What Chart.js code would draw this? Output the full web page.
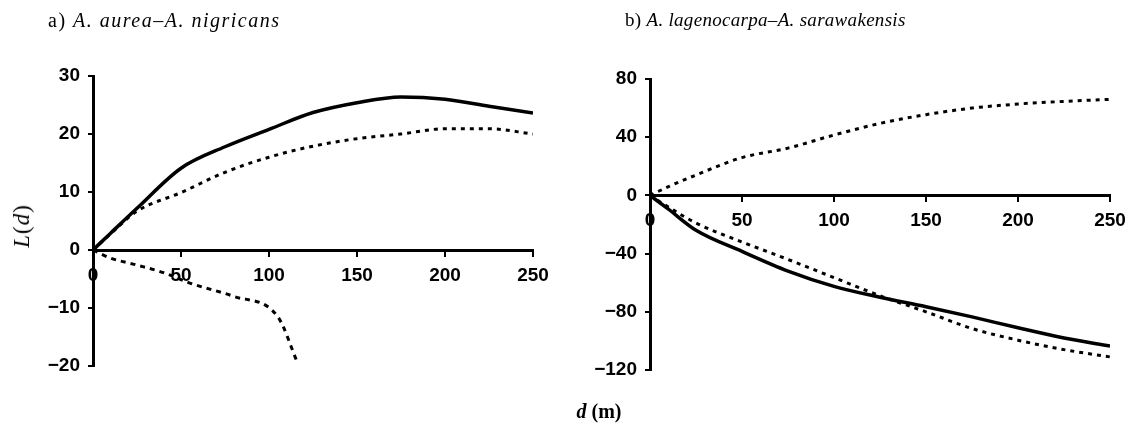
<!DOCTYPE html>
<html>
<head>
<meta charset="utf-8">
<script src="https://cdn.jsdelivr.net/npm/chart.js@4"></script>
<style>
  body { margin: 0; background: #fff; }
  #wrap { position: relative; width: 1136px; height: 425px; overflow: hidden; }
  canvas { position: absolute; top: 0; }
  .title { position: absolute; top: 9px; font-family: "Liberation Serif", "Times New Roman", serif; color: #000; white-space: nowrap; }
  .title i { font-style: italic; }
  .axislabel { position: absolute; font-family: "Liberation Serif", "Times New Roman", serif; color: #000; white-space: nowrap; transform-origin: center; }
</style>
</head>
<body>
<div id="wrap">
  <canvas id="chartA" width="568" height="425" style="left:0"></canvas>
  <canvas id="chartB" width="568" height="425" style="left:568px"></canvas>
  <div class="title" style="left:48px; font-size:20px; letter-spacing:1.5px">a) <i>A. aurea–A. nigricans</i></div>
  <div class="title" style="left:625px; font-size:19px; letter-spacing:0.3px">b) <i>A. lagenocarpa–A. sarawakensis</i></div>
  <div class="axislabel" style="left:22px; top:226px; font-size:23px; letter-spacing:1px; transform: translate(-50%, -50%) rotate(-90deg);"><i>L</i>(<i>d</i>)</div>
  <div class="axislabel" style="left:599px; top:411px; font-size:20px; font-weight:bold; transform: translate(-50%, -50%);"><i>d</i> (m)</div>
</div>
<script>
// distances (m) and L(d) values
const distA = [0, 10, 25, 50, 75, 100, 125, 150, 175, 200, 225, 250];
const solidA = [0, 2.9, 7.2, 14.1, 17.8, 20.8, 23.7, 25.4, 26.4, 26.0, 24.8, 23.6];
const dottedA = [0, 2.8, 6.7, 9.9, 13.4, 16.0, 17.9, 19.2, 20.0, 20.9, 20.9, 20.0];
const distLowA = [0, 10, 25, 40, 55, 80, 105, 116];
const dashedLowA = [0, -1.4, -2.6, -3.9, -5.7, -8.0, -11.5, -19.3];

const distB = [0, 10, 25, 50, 75, 100, 125, 150, 175, 200, 225, 250];
const dottedUpB = [0, 6, 14, 26, 32.5, 41.5, 49.5, 55.5, 60, 62.8, 64.6, 66];
const solidB = [0, -9.5, -24, -38.5, -52, -62.5, -70, -76.5, -83.5, -91, -98, -103.5];
const dottedLowB = [0, -8, -19, -32, -44, -56.5, -69, -80, -91.5, -99.5, -106, -111];

const xTicks = [0, 50, 100, 150, 200, 250];
const yTicksA = [-20, -10, 0, 10, 20, 30];
const yTicksB = [-120, -80, -40, 0, 40, 80];

const tickFont = { family: '"Liberation Sans", Arial, sans-serif', size: 19, weight: 'bold' };
const Y_AXIS_W = 60;

function pts(xs, ys) {
    return xs.map((x, i) => ({ x: x, y: ys[i] }));
}

function minusLabel(v) {
    return v < 0 ? '\u2212' + Math.abs(v) : String(v);
}

function makeChart(id, datasets, yTicks, pad) {
    const ctx = document.getElementById(id).getContext('2d');
    return new Chart(ctx, {
        type: 'line',
        data: { datasets: datasets },
        options: {
            responsive: false,
            animation: false,
            layout: { padding: pad },
            plugins: { legend: { display: false }, tooltip: { enabled: false } },
            elements: { point: { radius: 0 }, line: { cubicInterpolationMode: 'monotone' } },
            scales: {
                x: {
                    type: 'linear',
                    min: xTicks[0],
                    max: xTicks[xTicks.length - 1],
                    position: { y: 0 },
                    afterFit: s => { s.height = 0; },
                    afterBuildTicks: s => { s.ticks = xTicks.map(v => ({ value: v })); },
                    ticks: { color: '#000', font: tickFont, padding: 9, maxRotation: 0, autoSkip: false },
                    grid: { drawOnChartArea: false, drawTicks: true, tickLength: 5, color: '#000', lineWidth: 2 },
                    border: { color: '#000', width: 3 }
                },
                y: {
                    type: 'linear',
                    min: yTicks[0],
                    max: yTicks[yTicks.length - 1],
                    position: 'left',
                    afterFit: s => { s.width = Y_AXIS_W; },
                    afterBuildTicks: s => { s.ticks = yTicks.map(v => ({ value: v })); },
                    ticks: { color: '#000', font: tickFont, padding: 8, autoSkip: false, callback: minusLabel },
                    grid: { drawOnChartArea: false, drawTicks: true, tickLength: 5, color: '#000', lineWidth: 2 },
                    border: { color: '#000', width: 3 }
                }
            }
        }
    });
}

makeChart('chartA', [
    { data: pts(distA, solidA), borderColor: '#000', borderWidth: 3.5 },
    { data: pts(distA, dottedA), borderColor: '#000', borderWidth: 3, borderDash: [4, 5] },
    { data: pts(distLowA, dashedLowA), borderColor: '#000', borderWidth: 3, borderDash: [5, 5] }
], yTicksA, { left: 93 - Y_AXIS_W, top: 76, right: 35, bottom: 59 });

makeChart('chartB', [
    { data: pts(distB, dottedUpB), borderColor: '#000', borderWidth: 3, borderDash: [4, 5] },
    { data: pts(distB, solidB), borderColor: '#000', borderWidth: 3.5 },
    { data: pts(distB, dottedLowB), borderColor: '#000', borderWidth: 3, borderDash: [4, 5] }
], yTicksB, { left: 82 - Y_AXIS_W, top: 79, right: 26, bottom: 55 });
</script>
</body>
</html>
